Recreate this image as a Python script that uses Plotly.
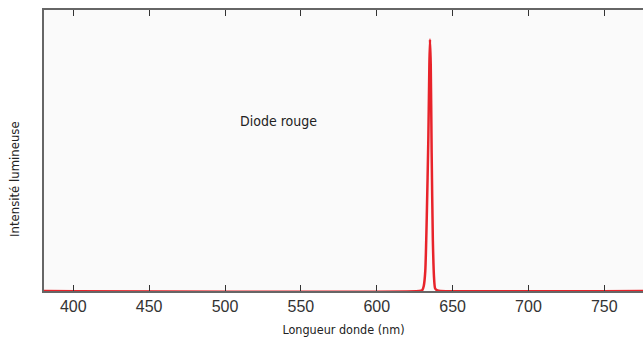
import plotly.graph_objects as go

wavelength = [380, 628, 630, 631, 632, 633, 634, 634.7, 635.1, 635.6, 636.2, 637, 637.8, 638.5, 640, 642, 780]
intensity = [0, 0, 0.003, 0.02, 0.08, 0.3, 0.6, 0.9, 1.0, 0.9, 0.55, 0.2, 0.05, 0.01, 0.002, 0, 0]
tick_vals = [400, 450, 500, 550, 600, 650, 700, 750]
label_text = "Diode rouge"
x_title = "Longueur donde (nm)"
y_title = "Intensité lumineuse"

narrow = "Liberation Sans Narrow, DejaVu Sans Condensed, Arial Narrow, sans-serif"

fig = go.Figure()
fig.add_trace(go.Scatter(x=wavelength, y=intensity, mode="lines",
                         line=dict(color="#e8232a", width=2.5, shape="spline", smoothing=0.6),
                         hoverinfo="skip", showlegend=False))

fig.add_annotation(x=535, y=0.675, text=label_text, showarrow=False,
                   font=dict(family=narrow, size=14, color="#222"))
# y title sits below the plot-area centre in the reference
fig.add_annotation(xref="paper", yref="paper", x=-0.0484, y=0.399, text=y_title,
                   textangle=-90, showarrow=False, xanchor="center", yanchor="middle",
                   font=dict(family=narrow, size=13, color="#222"))

fig.update_layout(
    width=643, height=340,
    margin=dict(l=44, r=0, t=10, b=49),
    paper_bgcolor="white", plot_bgcolor="#fafafa",
    xaxis=dict(range=[380.7, 775.5], tickvals=tick_vals, ticks="inside", ticklen=6,
               tickcolor="#333", tickwidth=1.2, showline=True, linecolor="#666", linewidth=1.5,
               mirror="ticks", showgrid=False, zeroline=False,
               tickfont=dict(family="Liberation Sans, Arial, sans-serif", size=16, color="#333"),
               title=dict(text=x_title, font=dict(family=narrow, size=12.5, color="#222"), standoff=11)),
    yaxis=dict(range=[0, 1.117], showticklabels=False, ticks="", showline=True,
               linecolor="#666", linewidth=1.5, showgrid=False, zeroline=False),
)

fig.write_html("out.html", config={"displayModeBar": False},
               post_script="document.body.style.margin='0';document.body.style.overflow='hidden';")
